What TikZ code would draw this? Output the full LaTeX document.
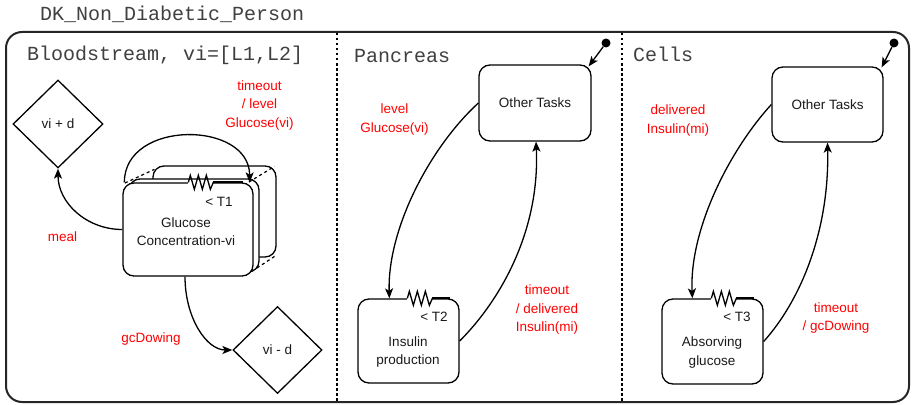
\documentclass[tikz,border=0pt]{standalone}
\usepackage{fontspec}
\setmainfont{Liberation Sans}
\newfontfamily\monofont{Liberation Mono}
\usetikzlibrary{shapes.geometric,arrows.meta,calc}

\tikzset{
  pics/timer/.style={code={
    \draw[white, line width=2.5pt] (0,0) -- (25,0);
    \draw[line width=1.3pt, line join=miter]
      (0,0) -- (2,-7) -- (6,7) -- (10,-7) -- (14,7) -- (18,-7) -- (22,7) -- (25,0);
  }}
}

\begin{document}
\begin{tikzpicture}[x=1pt,y=-1pt,
  every node/.style={font=\fontsize{13.5}{18.5}\selectfont, text=black!90, inner sep=0pt},
  state/.style={draw, rounded corners=11pt, line width=1.3pt, fill=white, align=center},
  choice/.style={draw, diamond, line width=1.3pt, fill=white},
  caption/.style={align=center},
  guard/.style={text=red, align=center},
  heading/.style={font=\monofont\fontsize{20}{22}\selectfont, anchor=base west, text=black!75},
  flow/.style={line width=1.3pt, -{Stealth[length=10pt,width=8pt,inset=2.5pt]}},
  initdot/.style={circle, fill=black, minimum size=9pt},
  stackline/.style={line width=1.2pt, dash pattern=on 3pt off 3pt},
  divider/.style={line width=2.5pt, dash pattern=on 2.5pt off 2.5pt},
]
\useasboundingbox (0,0) rectangle (912,404);

% frame and region separators
\draw[line width=2pt, black!85, rounded corners=16pt] (6,32) rectangle (909,402);
\draw[divider] (337,33) -- (337,401);
\draw[divider] (622,33) -- (622,401);

\node[heading] (title) at (40,21) {DK\_Non\_Diabetic\_Person};
\node[heading] (blood) at (27,60) {Bloodstream, vi=[L1,L2]};
\node[heading] (panc) at (354,63) {Pancreas};
\node[heading] (cells) at (633,61) {Cells};

% ---------------- Bloodstream ----------------
\node[choice, minimum width=90pt, minimum height=88pt] (dplus) at (58,124) {vi + d};
\node[choice, minimum width=89pt, minimum height=87pt] (dminus) at (277.5,350) {vi - d};

% stacked glucose states
\node[state, minimum width=123pt, minimum height=91pt] (gback) at (214.5,211.5) {};
\node[state, minimum width=130pt, minimum height=93pt] (gmid) at (194,225.5) {};
\coordinate (stk1) at (125,183);
\coordinate (stk2) at (249,182);
\coordinate (stk3) at (257,268);
\draw[stackline] (stk1) -- ($(gback.north west)+(2,4)$);
\draw[stackline] (stk2) -- ($(gback.north east)+(-2,1)$);
\draw[stackline] (stk3) -- ($(gback.south east)+(-1,-2)$);
\node[state, minimum width=130pt, minimum height=93pt] (gfront) at (188,229.5) {};
\node[caption] (gtext) at (186,231.5) {Glucose\\Concentration-vi};
\pic at ($(gfront.north west)+(66,0)$) {timer};
\draw[line width=2pt] ($(gfront.north west)+(91,0)$) -- ($(gfront.north east)+(-11,0)$);
\node (t1) at (219,202) {\textless{} T1};

\draw[flow] ($(gfront.north west)+(2,0)$) .. controls +(0,-63) and +(0,-62) .. ($(gfront.north east)+(-4,0)$);
\draw[flow] (gfront.west) .. controls +(-36,0) and +(0,34) .. (dplus.south);
\draw[flow] ($(gfront.south)+(-3,0)$) .. controls +(0,41) and +(-26,0) .. (dminus.west);

\node[guard] (gloop) at (259.5,105.5) {timeout\\/ level\\Glucose(vi)};
\node[guard] (gmeal) at (62.5,237) {meal};
\node[guard] (gdown) at (151,339) {gcDowing};

% ---------------- Pancreas ----------------
\node[state, minimum width=112pt, minimum height=76pt] (ptasks) at (535,103) {Other Tasks};
\node[state, minimum width=101pt, minimum height=84pt] (insulin) at (408.5,341) {};
\node[caption] (itext) at (408,352) {Insulin\\production};
\pic at ($(insulin.north west)+(50,0)$) {timer};
\draw[line width=2pt] ($(insulin.north west)+(75,0)$) -- ($(insulin.north east)+(-10,0)$);
\node (t2) at (434,317) {\textless{} T2};
\node[initdot] (pdot) at (606,43) {};
\draw[flow] (pdot) -- ($(ptasks.north east)+(-3,2)$);

\draw[flow] (ptasks.west) .. controls +(-49,45) and +(-2,-69) .. ($(insulin.north west)+(32,0)$);
\draw[flow] (insulin.east) .. controls +(41,-41) and +(4,89) .. ($(ptasks.south)+(1,0)$);

\node[guard] (plevel) at (394.5,119.5) {level\\Glucose(vi)};
\node[guard] (pdeliv) at (547,310) {timeout\\/ delivered\\Insulin(mi)};

% ---------------- Cells ----------------
\node[state, minimum width=111pt, minimum height=75pt] (ctasks) at (827.5,104.5) {Other Tasks};
\node[state, minimum width=101pt, minimum height=85pt] (absorb) at (712.5,341.5) {};
\node[caption] (atext) at (712,352.5) {Absorving\\glucose};
\pic at ($(absorb.north west)+(50,0)$) {timer};
\draw[line width=2pt] ($(absorb.north west)+(75,0)$) -- ($(absorb.north east)+(-10,0)$);
\node (t3) at (737,317) {\textless{} T3};
\node[initdot] (cdot) at (894,43) {};
\draw[flow] (cdot) -- ($(ctasks.north east)+(-2,1)$);

\draw[flow] (ctasks.west) .. controls +(-42,46) and +(-3,-69) .. ($(absorb.north west)+(31,0)$);
\draw[flow] (absorb.east) .. controls +(37,-41) and +(2,88) .. (ctasks.south);

\node[guard] (cdeliv) at (678,120.5) {delivered\\Insulin(mi)};
\node[guard] (cdown) at (836,318) {timeout\\/ gcDowing};
\end{tikzpicture}
\end{document}
